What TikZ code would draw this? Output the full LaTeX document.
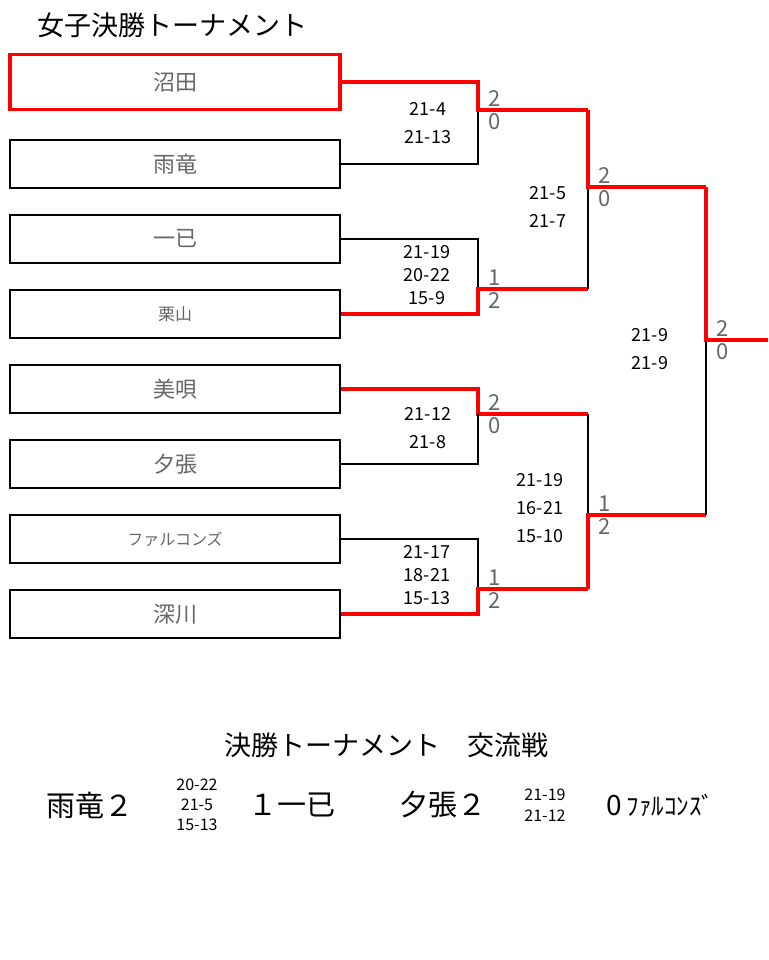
\documentclass[tikz,border=0pt]{standalone}
\usepackage{fontspec}
\setmainfont{Noto Sans CJK JP}
\begin{document}
\begin{tikzpicture}[x=1pt,y=-1pt,
	team/.style={draw,line width=1.8pt,minimum width=330pt,minimum height=48pt,text=black!60,font=\fontsize{22}{22}\selectfont},
	win/.style={red,line width=4pt},
	lose/.style={black,line width=1.5pt},
	score/.style={font=\fontsize{18}{23}\selectfont,align=center},
	sets/.style={text=black!60,font=\fontsize{22}{22}\selectfont}]
	\useasboundingbox (0,0) rectangle (768,960);
	\node[anchor=west,font=\fontsize{27}{27}\selectfont] (title) at (34,25) {女子決勝トーナメント};

	% teams
	\node[team,draw=red,line width=3.5pt,minimum height=55pt] (t1) at (175,82) {沼田};
	\node[team] (t2) at (175,164) {雨竜};
	\node[team] (t3) at (175,239) {一已};
	\node[team,font=\fontsize{17}{17}\selectfont] (t4) at (175,314) {栗山};
	\node[team] (t5) at (175,389) {美唄};
	\node[team] (t6) at (175,464) {夕張};
	\node[team,font=\fontsize{16}{16}\selectfont] (t7) at (175,539) {ファルコンズ};
	\node[team] (t8) at (175,614) {深川};

	% junctions
	\coordinate (m1) at (478,110);
	\coordinate (m2) at (478,289);
	\coordinate (m3) at (478,414);
	\coordinate (m4) at (478,589);
	\coordinate (s1) at (588,187);
	\coordinate (s2) at (588,515);
	\coordinate (f)  at (706,340);
	\coordinate (champ) at (768,340);

	% round 1
	\draw[lose] (t2.east) -| (m1);
	\draw[win] (t1.east |- 0,82) -| (m1) -- (m1 -| s1);
	\draw[lose] (t3.east) -| (m2);
	\draw[win] (t4.east) -| (m2) -- (m2 -| s1);
	\draw[win] (t5.east) -| (m3) -- (m3 -| s2);
	\draw[lose] (t6.east) -| (m3);
	\draw[lose] (t7.east) -| (m4);
	\draw[win] (t8.east) -| (m4) -- (m4 -| s2);
	% semis
	\draw[lose] (m2 -| s1) -- (s1);
	\draw[win] (m1 -| s1) -- (s1) -- (s1 -| f);
	\draw[lose] (m3 -| s2) -- (s2);
	\draw[win] (m4 -| s2) -- (s2) -- (s2 -| f);
	% final
	\draw[lose] (s2 -| f) -- (f);
	\draw[win] (s1 -| f) -- (f) -- (champ);

	% scores
	\node[score] (r1) at (428,123) {21-4\\[5pt]21-13};
	\node[score] (r2) at (427,275) {21-19\\20-22\\15-9};
	\node[score] (r3) at (428,428) {21-12\\[5pt]21-8};
	\node[score] (r4) at (427,575) {21-17\\18-21\\15-13};
	\node[score] (r5) at (548,207) {21-5\\[5pt]21-7};
	\node[score] (r6) at (540,508) {21-19\\[5pt]16-21\\[5pt]15-10};
	\node[score] (r7) at (650,349) {21-9\\[5pt]21-9};

	\foreach \p/\a/\b in {m1/2/0,m2/1/2,m3/2/0,m4/1/2,s1/2/0,s2/1/2,f/2/0} {
		\node[sets,anchor=south west,inner sep=1pt] at ([xshift=9pt,yshift=2pt]\p) {\a};
		\node[sets,anchor=north west,inner sep=1pt] at ([xshift=9pt,yshift=-2pt]\p) {\b};
	}

	% exchange match
	\node[font=\fontsize{27}{27}\selectfont] (sub) at (386,745) {決勝トーナメント\quad 交流戦};
	\node[font=\fontsize{29}{29}\selectfont] (x1) at (90,805) {雨竜２};
	\node[score,font=\fontsize{16}{20}\selectfont] (x2) at (197,805) {20-22\\21-5\\15-13};
	\node[font=\fontsize{29}{29}\selectfont] (x3) at (292,805) {１一已};
	\node[font=\fontsize{29}{29}\selectfont] (x4) at (443,805) {夕張２};
	\node[score,font=\fontsize{16}{21}\selectfont] (x5) at (545,805) {21-19\\21-12};
	\node[font=\fontsize{28}{28}\selectfont,anchor=west] (x6) at (603,805) {0\,\fontsize{25}{25}\selectfont ﾌｧﾙｺﾝｽﾞ};
\end{tikzpicture}
\end{document}
